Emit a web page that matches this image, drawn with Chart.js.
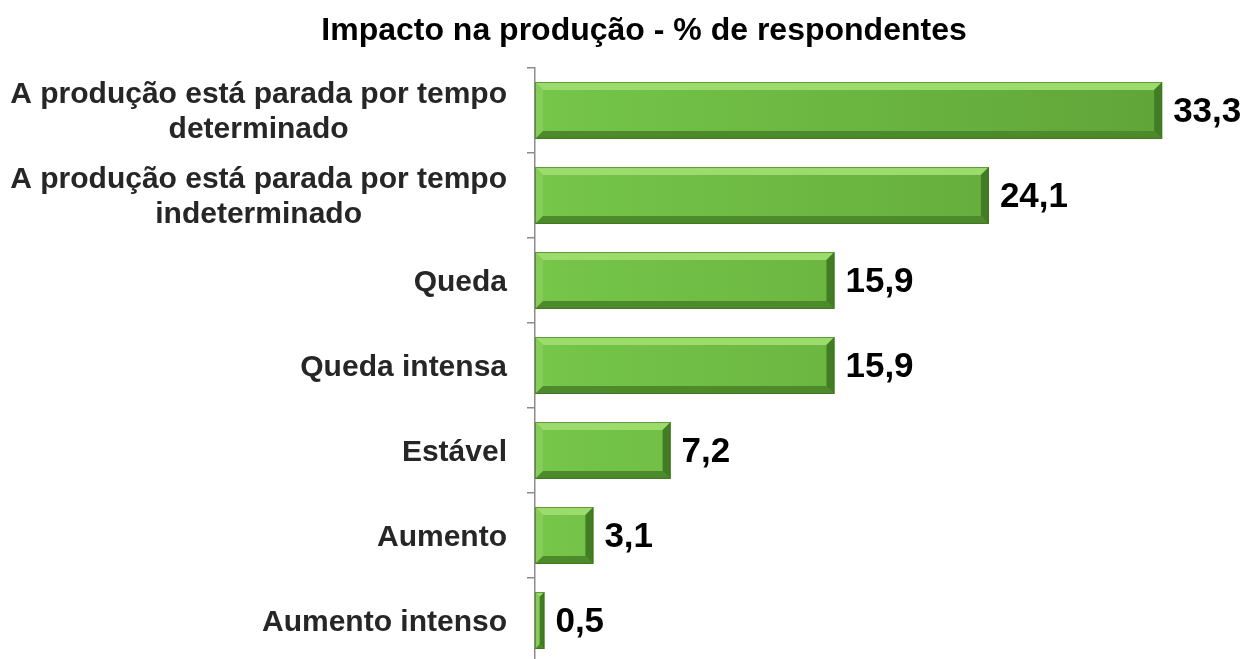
<!DOCTYPE html>
<html>
<head>
<meta charset="utf-8">
<script src="https://cdn.jsdelivr.net/npm/chart.js@4"></script>
<style>
  html, body { margin: 0; padding: 0; background: #fff; overflow: hidden; }
  canvas { display: block; }
</style>
</head>
<body>
<canvas id="prodChart" width="1243" height="670"></canvas>
<script>
const chartTitle = 'Impacto na produção - % de respondentes';
const categories = [
    ['A produção está parada por tempo', 'determinado'],
    ['A produção está parada por tempo', 'indeterminado'],
    'Queda',
    'Queda intensa',
    'Estável',
    'Aumento',
    'Aumento intenso'
];
const values = [33.3, 24.1, 15.9, 15.9, 7.2, 3.1, 0.5];
const valueLabels = ['33,3', '24,1', '15,9', '15,9', '7,2', '3,1', '0,5'];

const FONT = '"Liberation Sans", Arial, sans-serif';

// bevel + labels + title drawn on top of the library's bars
const bevelPlugin = {
    id: 'bevel',
    afterDatasetsDraw(chart) {
        const ctx = chart.ctx;
        const meta = chart.getDatasetMeta(0);
        meta.data.forEach((bar, i) => {
            const x0 = bar.base, x1 = bar.x;
            const y0 = bar.y - bar.height / 2, y1 = bar.y + bar.height / 2;
            const b = Math.min(8, (x1 - x0) / 2);
            ctx.save();
            // top
            ctx.fillStyle = '#9bdc6c';
            ctx.beginPath();
            ctx.moveTo(x0, y0); ctx.lineTo(x1, y0); ctx.lineTo(x1 - b, y0 + b); ctx.lineTo(x0 + b, y0 + b);
            ctx.fill();
            // left
            ctx.fillStyle = '#86cc58';
            ctx.beginPath();
            ctx.moveTo(x0, y0); ctx.lineTo(x0 + b, y0 + b); ctx.lineTo(x0 + b, y1 - b); ctx.lineTo(x0, y1);
            ctx.fill();
            // bottom
            ctx.fillStyle = '#4c8a2b';
            ctx.beginPath();
            ctx.moveTo(x0, y1); ctx.lineTo(x0 + b, y1 - b); ctx.lineTo(x1 - b, y1 - b); ctx.lineTo(x1, y1);
            ctx.fill();
            // right
            ctx.fillStyle = '#427c24';
            ctx.beginPath();
            ctx.moveTo(x1, y0); ctx.lineTo(x1, y1); ctx.lineTo(x1 - b, y1 - b); ctx.lineTo(x1 - b, y0 + b);
            ctx.fill();
            ctx.strokeStyle = 'rgba(60,110,30,0.6)';
            ctx.lineWidth = 1;
            ctx.strokeRect(x0 + 0.5, y0 + 0.5, x1 - x0 - 1, y1 - y0 - 1);

            ctx.fillStyle = '#000';
            ctx.font = 'bold 35px ' + FONT;
            ctx.textAlign = 'left';
            ctx.textBaseline = 'middle';
            ctx.fillText(valueLabels[i], x1 + 11, bar.y + 2);
            ctx.restore();
        });

        // category labels: block right-aligned to the axis, lines centred in the block
        const yScale = chart.scales.y;
        const right = yScale.right - 28;
        ctx.save();
        ctx.fillStyle = '#262626';
        ctx.font = 'bold 30px ' + FONT;
        ctx.textAlign = 'center';
        ctx.textBaseline = 'middle';
        categories.forEach((lab, i) => {
            const lines = Array.isArray(lab) ? lab : [lab];
            const w = Math.max(...lines.map(l => ctx.measureText(l).width));
            const cx = right - w / 2;
            const cy = yScale.getPixelForValue(i) + 2;
            const lh = 35;
            lines.forEach((l, k) => {
                ctx.fillText(l, cx, cy + (k - (lines.length - 1) / 2) * lh);
            });
        });
        ctx.restore();

        ctx.save();
        ctx.fillStyle = '#000';
        ctx.font = 'bold 32px ' + FONT;
        ctx.textAlign = 'center';
        ctx.textBaseline = 'middle';
        ctx.fillText(chartTitle, 644, 31);
        ctx.restore();
    }
};

new Chart(document.getElementById('prodChart').getContext('2d'), {
    type: 'bar',
    data: {
        labels: categories,
        datasets: [{
            data: values,
            backgroundColor: (c) => {
                const area = c.chart.chartArea;
                if (!area) return '#6dbd42';
                const g = c.chart.ctx.createLinearGradient(area.left, 0, area.right, 0);
                g.addColorStop(0, '#76c64a');
                g.addColorStop(1, '#5ea237');
                return g;
            },
            borderWidth: 0,
            categoryPercentage: 1,
            barPercentage: 0.67
        }]
    },
    options: {
        indexAxis: 'y',
        responsive: false,
        animation: false,
        layout: { padding: { top: 68, bottom: 7, right: 30, left: 0 } },
        plugins: { legend: { display: false }, tooltip: { enabled: false } },
        scales: {
            x: { display: false, min: 0, max: 36 },
            y: {
                afterFit: (s) => { s.width = 535; s.paddingTop = 0; s.paddingBottom = 0; },
                border: { display: true, color: '#8c8c8c', width: 1.5 },
                grid: { offset: true, drawOnChartArea: false, tickLength: 8, color: '#8c8c8c', lineWidth: 1.5 },
                ticks: { display: false }
            }
        }
    },
    plugins: [bevelPlugin]
});
</script>
</body>
</html>
